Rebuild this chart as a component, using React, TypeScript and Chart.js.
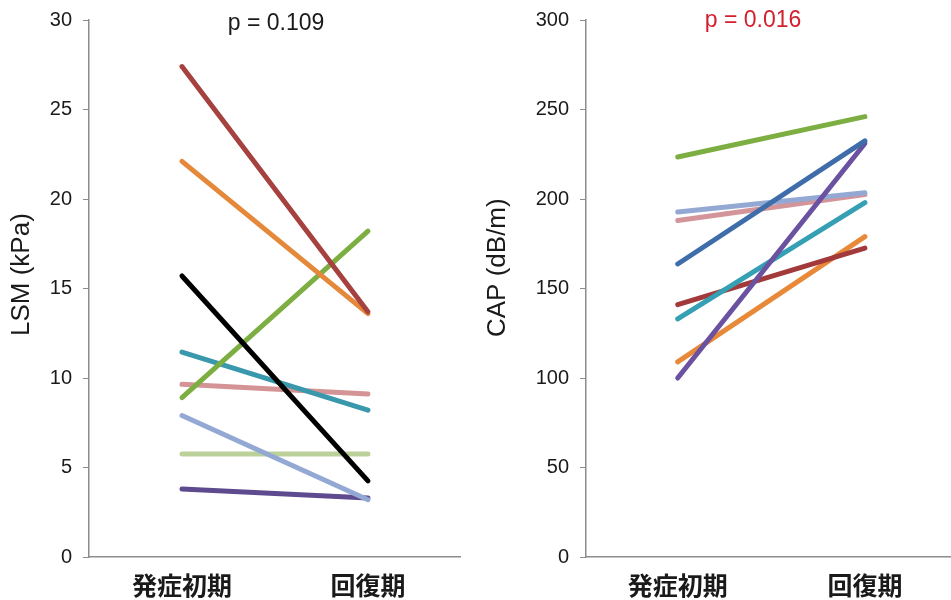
import React, { useEffect, useRef } from "react";
import { Chart, registerables } from "chart.js";

Chart.register(...registerables);

const categories = ["発症初期", "回復期"];

// LSM (kPa)
const lsmOnset = [27.4, 22.1, 15.7, 8.9, 11.45, 9.65, 7.9, 5.75, 3.8];
const lsmRecovery = [13.7, 13.6, 4.25, 18.2, 8.2, 9.1, 3.2, 5.75, 3.3];
const lsmTicks = [0, 5, 10, 15, 20, 25, 30];

// CAP (dB/m)
const capOnset = [223.5, 163.7, 100, 192.7, 188, 133, 141, 109];
const capRecovery = [246, 232.5, 231, 203.5, 202.5, 198, 172.6, 179];
const capTicks = [0, 50, 100, 150, 200, 250, 300];

const lsmColors = [
  "#A5413F", "#E5883A", "#000000", "#7DAE42", "#3A98AC",
  "#D49496", "#93A9D4", "#BCD199", "#5E4A8E",
];
const capColors = [
  "#7DAE42", "#3F6DA9", "#6A52A0", "#93A9D4", "#D4959A",
  "#35A0B4", "#A23A3B", "#E8893A",
];

const NUM_FONT = "'Liberation Sans', Arial, sans-serif";
const CJK_FONT = "'Noto Sans CJK JP', sans-serif";

const textPlugin = {
  id: "extraText",
  afterDraw(chart: any, _args: any, opts: any) {
    const ctx = chart.ctx;
    ctx.save();
    // p-value label
    ctx.font = `23px ${NUM_FONT}`;
    ctx.fillStyle = opts.pColor;
    ctx.textAlign = "center";
    ctx.textBaseline = "alphabetic";
    ctx.fillText(opts.pText, opts.pX, opts.pY);
    // rotated y-axis title
    ctx.translate(opts.yTitleX, opts.yTitleBottom);
    ctx.rotate(-Math.PI / 2);
    ctx.font = `26px ${NUM_FONT}`;
    ctx.fillStyle = "#1a1a1a";
    ctx.textAlign = "left";
    ctx.textBaseline = "middle";
    ctx.fillText(opts.yTitle, 0, 0);
    ctx.restore();
  },
};

function makeConfig(
  onset: number[],
  recovery: number[],
  colors: string[],
  ticks: number[],
  yTitle: string,
  axisWidth: number,
  rightPad: number,
  xMin: number,
  xMax: number,
  yTitleX: number,
  yTitleBottom: number,
  pText: string,
  pColor: string,
  pX: number,
  pY: number
): any {
  const datasets = onset.map((v, i) => ({
    data: [
      { x: 0, y: v },
      { x: 1, y: recovery[i] },
    ],
    borderColor: colors[i],
    backgroundColor: colors[i],
    borderWidth: 5,
    borderCapStyle: "round",
    pointRadius: 0,
    fill: false,
  }));
  return {
    type: "line",
    data: { datasets },
    plugins: [textPlugin],
    options: {
      animation: false,
      responsive: false,
      layout: { padding: { top: 3, bottom: 1, left: 0, right: rightPad } },
      plugins: {
        legend: { display: false },
        tooltip: { enabled: false },
        extraText: { pText, pColor, pX, pY, yTitle, yTitleX, yTitleBottom },
      },
      scales: {
        x: {
          type: "linear",
          min: xMin,
          max: xMax,
          afterBuildTicks: (scale: any) => {
            scale.ticks = categories.map((_, i) => ({ value: i }));
          },
          grid: { display: true, drawOnChartArea: false, drawTicks: false },
          border: { display: true, color: "#8c8c8c", width: 1.5 },
          ticks: {
            autoSkip: false,
            maxRotation: 0,
            padding: 13,
            color: "#1a1a1a",
            font: { family: CJK_FONT, size: 25, weight: "bold" },
            callback: (v: any) => categories[v] ?? "",
          },
        },
        y: {
          type: "linear",
          min: ticks[0],
          max: ticks[ticks.length - 1],
          afterBuildTicks: (scale: any) => {
            scale.ticks = ticks.map((t) => ({ value: t }));
          },
          afterFit: (scale: any) => {
            scale.width = axisWidth;
          },
          grid: { display: true, drawOnChartArea: false, drawTicks: true, tickLength: 6, color: "#8c8c8c" },
          border: { display: true, color: "#8c8c8c", width: 1.5 },
          ticks: {
            padding: 11,
            color: "#1a1a1a",
            font: { family: NUM_FONT, size: 20 },
          },
          title: { display: false, text: yTitle },
        },
      },
    },
  };
}

function ChartCanvas({ config, width, height, left, top }: any) {
  const ref = useRef<HTMLCanvasElement | null>(null);
  useEffect(() => {
    if (!ref.current) return;
    const chart = new Chart(ref.current, config);
    return () => chart.destroy();
  }, [config]);
  return (
    <canvas
      ref={ref}
      width={width}
      height={height}
      style={{ position: "absolute", left, top, width, height }}
    />
  );
}

const leftConfig = makeConfig(
  lsmOnset, lsmRecovery, lsmColors, lsmTicks, "LSM (kPa)",
  89, 20, -0.5, 1.495, 22, 339, "p = 0.109", "#1a1a1a", 276, 33
);
const rightConfig = makeConfig(
  capOnset, capRecovery, capColors, capTicks, "CAP (dB/m)",
  106, 0, -0.49, 1.46, 18, 340, "p = 0.016", "#D2202F", 273, 30
);

export default function App() {
  return (
    <div
      style={{
        position: "fixed",
        left: 0,
        top: 0,
        width: 951,
        height: 600,
        background: "#ffffff",
        overflow: "hidden",
      }}
    >
      <ChartCanvas config={leftConfig} width={480} height={617} left={0} top={-3} />
      <ChartCanvas config={rightConfig} width={471} height={617} left={480} top={-3} />
    </div>
  );
}
